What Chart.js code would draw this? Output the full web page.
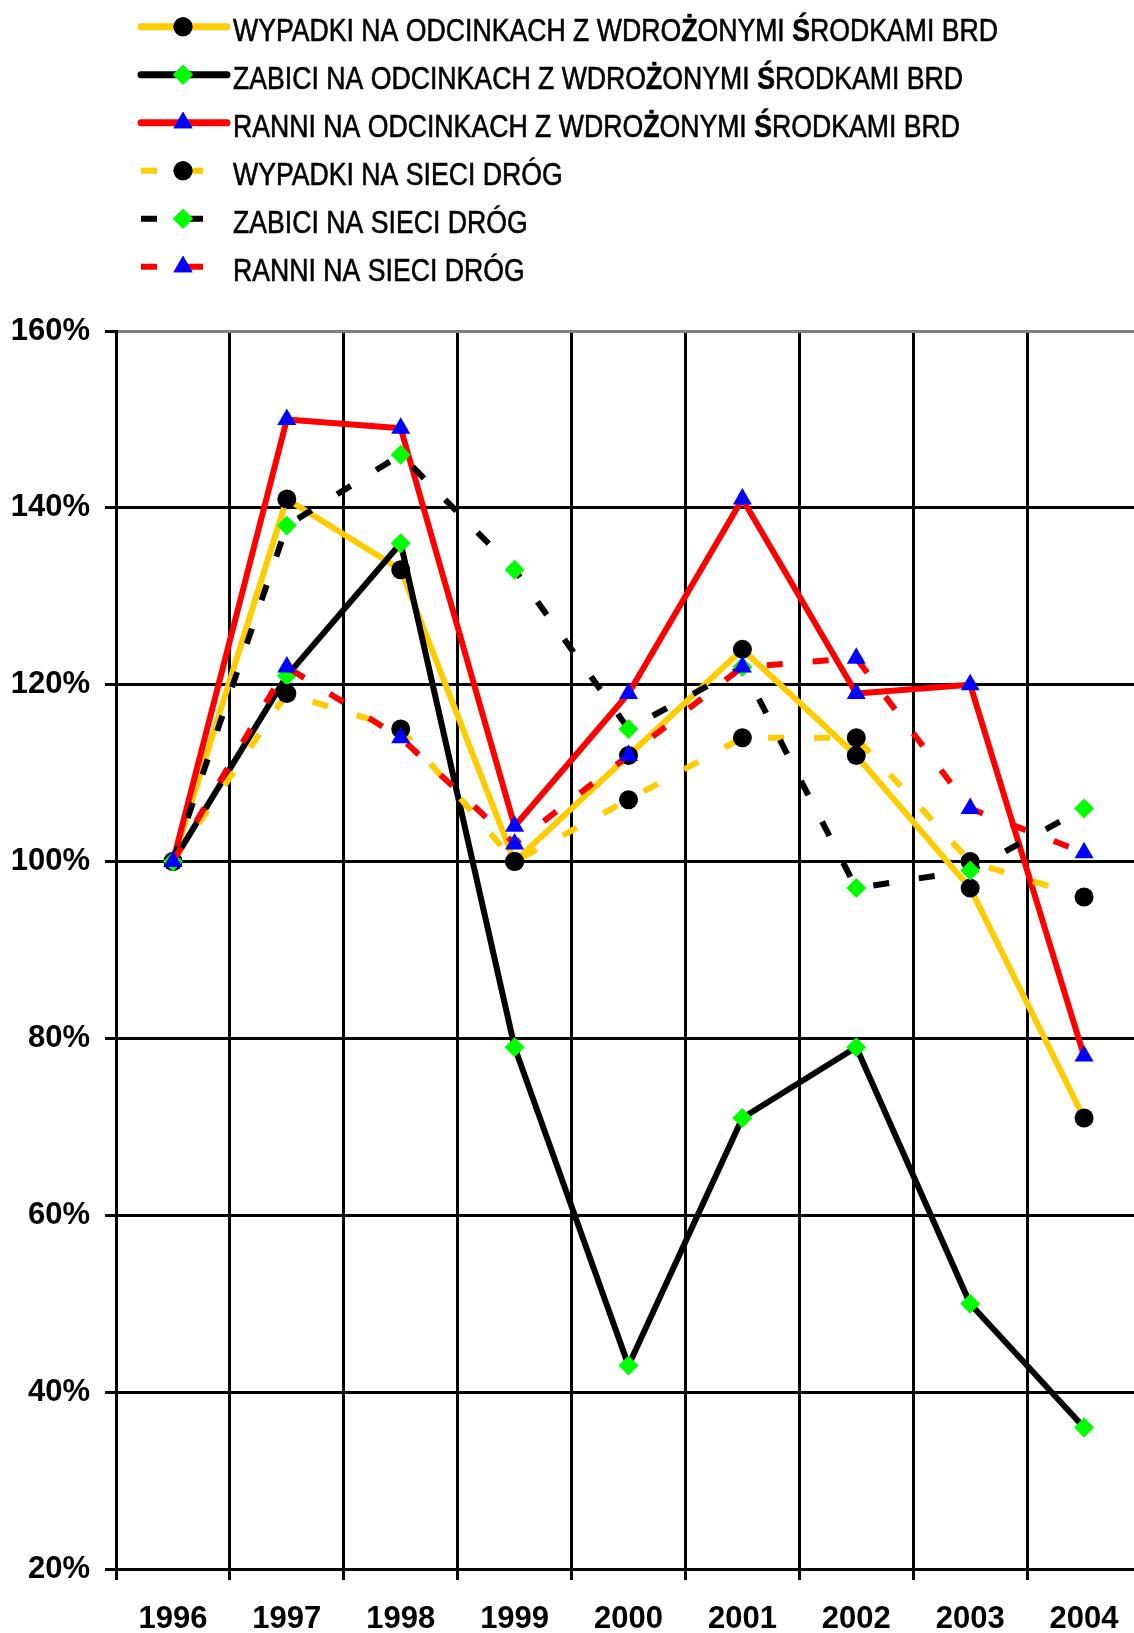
<!DOCTYPE html>
<html lang="pl">
<head>
<meta charset="utf-8">
<title>Wypadki, zabici i ranni 1996–2004</title>
<script src="https://cdn.jsdelivr.net/npm/chart.js@4/dist/chart.umd.min.js"></script>
<style>
  html, body { margin: 0; padding: 0; overflow: hidden; background: #fff; }
  canvas { display: block; }
</style>
</head>
<body>
<canvas id="chart" width="1152" height="1633"></canvas>
<script>
// Years on the category axis
const years = ['1996', '1997', '1998', '1999', '2000', '2001', '2002', '2003', '2004'];

// Index values (1996 = 100%) on sections with road-safety measures
const wypadkiOdcinki = [100, 141, 133, 100, 112, 124, 112, 97, 71];
const zabiciOdcinki  = [100, 121, 136, 79, 43, 71, 79, 50, 36];
const ranniOdcinki   = [100, 150, 149, 104, 119, 141, 119, 120, 78];

// Index values (1996 = 100%) on the whole road network
const wypadkiSiec = [100, 119, 115, 100, 107, 114, 114, 100, 96];
const zabiciSiec  = [100, 138, 146, 133, 115, 122, 97, 99, 106];
const ranniSiec   = [100, 122, 114, 102, 112, 122, 123, 106, 101];

// Series names
const seriesLabels = [
  'WYPADKI NA ODCINKACH Z WDROŻONYMI ŚRODKAMI BRD',
  'ZABICI NA ODCINKACH Z WDROŻONYMI ŚRODKAMI BRD',
  'RANNI NA ODCINKACH Z WDROŻONYMI ŚRODKAMI BRD',
  'WYPADKI NA SIECI DRÓG',
  'ZABICI NA SIECI DRÓG',
  'RANNI NA SIECI DRÓG'
];

// Y axis range, percent
const yMin = 20, yMax = 160, yStep = 20;

const YELLOW = '#FFCC00', BLACK = '#000000', RED = '#FF0000';
const DASH = [16, 30];

const markerCircle   = { pointStyle: 'circle',   pointRadius: 9.5, pointBackgroundColor: '#000000' };
const markerDiamond  = { pointStyle: 'rectRot',  pointRadius: 10,  pointBackgroundColor: '#00FF00' };
const markerTriangle = { pointStyle: 'triangle', pointRadius: 11,  pointBackgroundColor: '#0000FF' };

function series(label, values, color, dashed, marker, idx) {
  return Object.assign({
    label: label,
    data: values,
    borderColor: color,
    borderWidth: 6,
    borderDash: dashed ? DASH : [],
    borderCapStyle: 'butt',
    borderJoinStyle: 'round',
    tension: 0,
    fill: false,
    pointBorderWidth: 0,
    pointBorderColor: 'rgba(0,0,0,0)',
    pointHoverRadius: marker.pointRadius,
    clip: false,
    // later series are painted over earlier ones
    order: 10 - idx
  }, marker);
}

const datasets = [
  series(seriesLabels[0], wypadkiOdcinki, YELLOW, false, markerCircle, 0),
  series(seriesLabels[1], zabiciOdcinki,  BLACK,  false, markerDiamond, 1),
  series(seriesLabels[2], ranniOdcinki,   RED,    false, markerTriangle, 2),
  series(seriesLabels[3], wypadkiSiec,    YELLOW, true,  markerCircle, 3),
  series(seriesLabels[4], zabiciSiec,     BLACK,  true,  markerDiamond, 4),
  series(seriesLabels[5], ranniSiec,      RED,    true,  markerTriangle, 5)
];

// Legend stacked in a single column above the plot: line sample with marker, then name
const columnLegend = {
  id: 'columnLegend',
  afterDraw(chart) {
    const ctx = chart.ctx;
    const rowY0 = 26.7, rowStep = 48;
    const lineX0 = 141, lineX1 = 227, markX = 183, textX = 233;
    const family = '"Liberation Sans Narrow", "Liberation Sans", Arial, sans-serif';
    const regular = '31px ' + family;
    const bold = 'bold 31px ' + family;
    const heavyChars = 'ŻŚ';

    // split a name into runs; Ż and Ś are set in bold
    const runs = (text) => {
      const out = [];
      for (const ch of text) {
        const f = heavyChars.includes(ch) ? bold : regular;
        if (out.length && out[out.length - 1].font === f) out[out.length - 1].text += ch;
        else out.push({ text: ch, font: f });
      }
      return out;
    };
    const runsWidth = (rs) => rs.reduce((w, r) => { ctx.font = r.font; return w + ctx.measureText(r.text).width; }, 0);

    ctx.save();
    const sx = 765 / runsWidth(runs(chart.data.datasets[0].label));
    chart.data.datasets.forEach((ds, i) => {
      const y = rowY0 + i * rowStep;
      // line sample
      ctx.save();
      ctx.strokeStyle = ds.borderColor;
      ctx.lineWidth = ds.borderDash.length ? 6 : 7;
      ctx.lineCap = ds.borderDash.length ? 'butt' : 'round';
      ctx.setLineDash(ds.borderDash);
      ctx.beginPath();
      ctx.moveTo(lineX0, y);
      ctx.lineTo(lineX1, y);
      ctx.stroke();
      ctx.restore();
      // marker
      ctx.save();
      ctx.fillStyle = ds.pointBackgroundColor;
      ctx.strokeStyle = ds.pointBackgroundColor;
      Chart.helpers.drawPoint(ctx, {
        pointStyle: ds.pointStyle,
        radius: ds.pointRadius,
        rotation: 0,
        borderWidth: 0
      }, markX, y);
      ctx.fill();
      ctx.restore();
      // name
      ctx.save();
      ctx.fillStyle = '#000';
      ctx.strokeStyle = '#000';
      ctx.lineWidth = 0.6;
      ctx.textBaseline = 'alphabetic';
      ctx.textAlign = 'left';
      ctx.translate(textX, y + 14);
      ctx.scale(sx, 1);
      let x = 0;
      runs(ds.label).forEach((r) => {
        ctx.font = r.font;
        ctx.fillText(r.text, x, 0);
        ctx.strokeText(r.text, x, 0);
        x += ctx.measureText(r.text).width;
      });
      ctx.restore();
    });
    ctx.restore();
  }
};

Chart.defaults.font.family = '"Liberation Sans", Arial, sans-serif';
Chart.defaults.color = '#000';

new Chart(document.getElementById('chart'), {
  type: 'line',
  data: { labels: years, datasets: datasets },
  options: {
    responsive: false,
    animation: false,
    events: [],
    layout: { padding: { top: 331, left: 0, right: 0, bottom: 0 } },
    plugins: {
      legend: { display: false },
      tooltip: { enabled: false },
      title: { display: false }
    },
    scales: {
      x: {
        type: 'category',
        offset: true,
        grid: {
          offset: true,
          color: '#000',
          lineWidth: 3,
          drawTicks: true,
          tickLength: 11,
          tickColor: '#000',
          tickWidth: 3
        },
        border: { display: true, color: '#000', width: 3 },
        ticks: {
          font: { size: 31, weight: 'bold' },
          color: '#000',
          padding: 21,
          maxRotation: 0,
          autoSkip: false
        },
        afterFit(axis) { axis.height = 64; }
      },
      y: {
        min: yMin,
        max: yMax,
        grid: {
          color: (c) => (c.tick && c.tick.value === yMax ? '#808080' : '#000'),
          lineWidth: 3,
          drawTicks: true,
          tickLength: 11,
          tickColor: '#000',
          tickWidth: 3
        },
        border: { display: true, color: '#000', width: 3 },
        ticks: {
          stepSize: yStep,
          font: { size: 31, weight: 'bold' },
          color: '#000',
          padding: 15,
          callback: (v) => v + '%'
        },
        afterFit(axis) { axis.width = 116; }
      }
    }
  },
  plugins: [columnLegend]
});
</script>
</body>
</html>
